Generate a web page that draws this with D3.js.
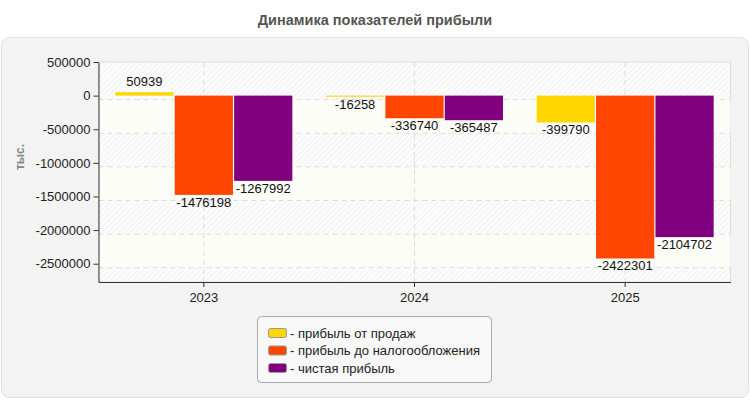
<!DOCTYPE html>
<html><head><meta charset="utf-8">
<script src="https://cdn.jsdelivr.net/npm/d3@7"></script>
<style>body{margin:0;background:#fff;font-family:"Liberation Sans",Arial,sans-serif}</style>
</head><body><svg id="c" width="750" height="400"></svg>
<script>
const categories = ["2023", "2024", "2025"];
const seriesNames = ["- прибыль от продаж", "- прибыль до налогообложения", "- чистая прибыль"];
const salesProfit = [50939, -16258, -399790];
const preTaxProfit = [-1476198, -336740, -2422301];
const netProfit = [-1267992, -365487, -2104702];
const yTicks = [500000, 0, -500000, -1000000, -1500000, -2000000, -2500000];
const colors = ["#FFD700", "#FF4500", "#800080"];
const title = "Динамика показателей прибыли";
const yLabel = "тыс.";

const series = [salesProfit, preTaxProfit, netProfit];
const svg = d3.select("#c");
const m = {l: 98.5, r: 730.5, t: 62, b: 282};

// panel
svg.append("rect").attr("x", 1.5).attr("y", 37.5).attr("width", 747).attr("height", 360)
  .attr("rx", 8).attr("fill", "#f3f3f3").attr("stroke", "#e0e0e0");
svg.append("text").attr("x", 375).attr("y", 25).attr("text-anchor", "middle")
  .attr("font-size", 14.5).attr("font-weight", "bold").attr("fill", "#555").text(title);

const defs = svg.append("defs");
const pat = defs.append("pattern").attr("id", "hatch").attr("patternUnits", "userSpaceOnUse")
  .attr("width", 4).attr("height", 4).attr("patternTransform", "rotate(45)");
pat.append("rect").attr("width", 4).attr("height", 4).attr("fill", "#fcfcfc");
pat.append("line").attr("x1", 0).attr("y1", 0).attr("x2", 0).attr("y2", 4)
  .attr("stroke", "#ebebeb").attr("stroke-width", 1.2);

const y = d3.scaleLinear().domain([-2772000, 500000]).range([m.b, m.t]);
const x0 = d3.scaleBand().domain(categories).range([m.l, m.r]);
const x1 = d3.scaleBand().domain(d3.range(series.length)).range([0, 177]).paddingInner(0.02);

// plot background: alternating bands
svg.append("rect").attr("x", m.l).attr("y", m.t).attr("width", m.r - m.l).attr("height", m.b - m.t)
  .attr("fill", "url(#hatch)").attr("stroke", "#ddd");
const gridVals = yTicks.slice(1);
const off = 4;
for (let i = 0; i < gridVals.length - 1; i += 2) {
  const yt = y(gridVals[i]) + off, yb = y(gridVals[i + 1]) + off;
  svg.append("rect").attr("x", m.l).attr("y", yt).attr("width", m.r - m.l).attr("height", yb - yt)
    .attr("fill", "#fdfdf8");
}
// grid
svg.append("g").selectAll("line").data(gridVals).join("line")
  .attr("x1", m.l).attr("x2", m.r).attr("y1", d => y(d) + off).attr("y2", d => y(d) + off)
  .attr("stroke", "#dcdcdc").attr("stroke-dasharray", "5,4");
svg.append("g").selectAll("line").data(categories).join("line")
  .attr("x1", d => x0(d) + x0.bandwidth() / 2).attr("x2", d => x0(d) + x0.bandwidth() / 2)
  .attr("y1", m.t).attr("y2", m.b)
  .attr("stroke", "#dcdcdc").attr("stroke-dasharray", "5,4");

// bars
const data = [];
categories.forEach((c, ci) => series.forEach((s, si) => data.push({c, si, v: s[ci]})));
const gx = c => x0(c) + (x0.bandwidth() - 177) / 2;
svg.append("g").selectAll("rect").data(data).join("rect")
  .attr("x", d => gx(d.c) + x1(d.si))
  .attr("width", x1.bandwidth())
  .attr("y", d => Math.min(y(d.v), y(0)))
  .attr("height", d => Math.max(1, Math.abs(y(d.v) - y(0))))
  .attr("fill", d => colors[d.si]);
svg.append("g").selectAll("text").data(data).join("text")
  .attr("x", d => gx(d.c) + x1(d.si) + x1.bandwidth() / 2)
  .attr("y", d => d.v >= 0 ? y(d.v) - 6 : y(d.v) + 12)
  .attr("text-anchor", "middle").attr("font-size", 13).attr("fill", "#111")
  .text(d => d.v);

// axes
const ya = svg.append("g").attr("transform", `translate(${m.l},0)`)
  .call(d3.axisLeft(y).tickValues(yTicks).tickSize(5).tickSizeOuter(0).tickFormat(d => d));
ya.select(".domain").attr("stroke", "#333");
ya.selectAll(".tick line").attr("stroke", "#333");
ya.selectAll("text").attr("font-size", 13).attr("fill", "#222").attr("font-family", "Liberation Sans, Arial");
const xa = svg.append("g").attr("transform", `translate(0,${m.b})`)
  .call(d3.axisBottom(x0).tickSize(5).tickSizeOuter(0));
xa.select(".domain").attr("stroke", "#333");
xa.selectAll(".tick line").attr("stroke", "#333");
xa.selectAll("text").attr("font-size", 13).attr("fill", "#222").attr("dy", "0.95em").attr("font-family", "Liberation Sans, Arial");

svg.append("text").attr("transform", "translate(24,157) rotate(-90)").attr("text-anchor", "middle")
  .attr("font-size", 12).attr("font-weight", "bold").attr("fill", "#888").text(yLabel);

// legend
const lg = svg.append("g");
lg.append("rect").attr("x", 257.5).attr("y", 316.5).attr("width", 234).attr("height", 66).attr("rx", 4)
  .attr("fill", "#f8f8f8").attr("stroke", "#aaa");
seriesNames.forEach((n, i) => {
  const cy = 333 + i * 17.5;
  lg.append("rect").attr("x", 268.5).attr("y", cy - 4.5).attr("width", 18).attr("height", 9).attr("rx", 2)
    .attr("fill", colors[i]).attr("stroke", "#999");
  lg.append("text").attr("x", 290).attr("y", cy + 4.5).attr("font-size", 13).attr("fill", "#222").text(n);
});
</script></body></html>
